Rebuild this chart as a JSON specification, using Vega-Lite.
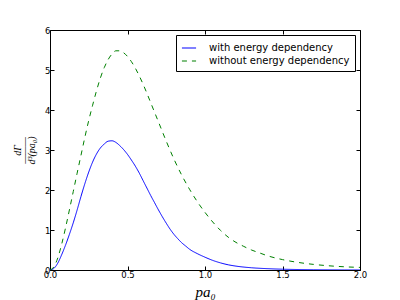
{
  "$schema": "https://vega.github.io/schema/vega-lite/v6.json",
  "width": 310,
  "height": 240,
  "autosize": {"type": "none"},
  "padding": {"left": 50, "top": 30, "right": 40, "bottom": 30},
  "background": "white",
  "config": {
    "view": {"stroke": "#000", "strokeWidth": 1},
    "axis": {
      "grid": false,
      "domain": false,
      "tickColor": "#000",
      "tickSize": -4,
      "tickWidth": 1,
      "labelColor": "#000",
      "labelFont": "DejaVu Sans",
      "labelFontSize": 8.5,
      "labelPadding": 4,
      "labelFlush": false,
      "labelOverlap": false
    },
    "legend": {
      "orient": "top-right",
      "offset": 5,
      "strokeColor": "#000",
      "fillColor": "white",
      "padding": 5,
      "symbolType": "stroke",
      "symbolSize": 200,
      "symbolStrokeWidth": 1.2,
      "labelFont": "DejaVu Sans",
      "labelFontSize": 10,
      "labelColor": "#000",
      "labelOffset": 12,
      "rowPadding": 0,
      "titlePadding": 0
    }
  },
  "data": {
    "values": [
      {"p": 0.0, "y": 0.0, "series": "with energy dependency"},
      {"p": 0.025, "y": 0.04, "series": "with energy dependency"},
      {"p": 0.05, "y": 0.17, "series": "with energy dependency"},
      {"p": 0.075, "y": 0.38, "series": "with energy dependency"},
      {"p": 0.1, "y": 0.62, "series": "with energy dependency"},
      {"p": 0.125, "y": 0.89, "series": "with energy dependency"},
      {"p": 0.15, "y": 1.18, "series": "with energy dependency"},
      {"p": 0.175, "y": 1.5, "series": "with energy dependency"},
      {"p": 0.2, "y": 1.84, "series": "with energy dependency"},
      {"p": 0.225, "y": 2.16, "series": "with energy dependency"},
      {"p": 0.25, "y": 2.45, "series": "with energy dependency"},
      {"p": 0.275, "y": 2.7, "series": "with energy dependency"},
      {"p": 0.3, "y": 2.9, "series": "with energy dependency"},
      {"p": 0.325, "y": 3.05, "series": "with energy dependency"},
      {"p": 0.35, "y": 3.15, "series": "with energy dependency"},
      {"p": 0.375, "y": 3.22, "series": "with energy dependency"},
      {"p": 0.4, "y": 3.23, "series": "with energy dependency"},
      {"p": 0.425, "y": 3.19, "series": "with energy dependency"},
      {"p": 0.45, "y": 3.11, "series": "with energy dependency"},
      {"p": 0.475, "y": 3.01, "series": "with energy dependency"},
      {"p": 0.5, "y": 2.89, "series": "with energy dependency"},
      {"p": 0.525, "y": 2.75, "series": "with energy dependency"},
      {"p": 0.55, "y": 2.6, "series": "with energy dependency"},
      {"p": 0.575, "y": 2.43, "series": "with energy dependency"},
      {"p": 0.6, "y": 2.24, "series": "with energy dependency"},
      {"p": 0.625, "y": 2.05, "series": "with energy dependency"},
      {"p": 0.65, "y": 1.86, "series": "with energy dependency"},
      {"p": 0.675, "y": 1.68, "series": "with energy dependency"},
      {"p": 0.7, "y": 1.5, "series": "with energy dependency"},
      {"p": 0.725, "y": 1.33, "series": "with energy dependency"},
      {"p": 0.75, "y": 1.17, "series": "with energy dependency"},
      {"p": 0.775, "y": 1.02, "series": "with energy dependency"},
      {"p": 0.8, "y": 0.89, "series": "with energy dependency"},
      {"p": 0.825, "y": 0.78, "series": "with energy dependency"},
      {"p": 0.85, "y": 0.68, "series": "with energy dependency"},
      {"p": 0.875, "y": 0.6, "series": "with energy dependency"},
      {"p": 0.9, "y": 0.52, "series": "with energy dependency"},
      {"p": 0.95, "y": 0.41, "series": "with energy dependency"},
      {"p": 1.0, "y": 0.32, "series": "with energy dependency"},
      {"p": 1.05, "y": 0.24, "series": "with energy dependency"},
      {"p": 1.1, "y": 0.178, "series": "with energy dependency"},
      {"p": 1.15, "y": 0.13, "series": "with energy dependency"},
      {"p": 1.2, "y": 0.097, "series": "with energy dependency"},
      {"p": 1.3, "y": 0.056, "series": "with energy dependency"},
      {"p": 1.4, "y": 0.034, "series": "with energy dependency"},
      {"p": 1.5, "y": 0.02, "series": "with energy dependency"},
      {"p": 1.6, "y": 0.012, "series": "with energy dependency"},
      {"p": 1.7, "y": 0.007, "series": "with energy dependency"},
      {"p": 1.8, "y": 0.004, "series": "with energy dependency"},
      {"p": 1.9, "y": 0.002, "series": "with energy dependency"},
      {"p": 2.0, "y": 0.001, "series": "with energy dependency"},
      {"p": 0.0, "y": 0.0, "series": "without energy dependency"},
      {"p": 0.025, "y": 0.08, "series": "without energy dependency"},
      {"p": 0.05, "y": 0.3, "series": "without energy dependency"},
      {"p": 0.075, "y": 0.64, "series": "without energy dependency"},
      {"p": 0.1, "y": 1.05, "series": "without energy dependency"},
      {"p": 0.125, "y": 1.5, "series": "without energy dependency"},
      {"p": 0.15, "y": 1.96, "series": "without energy dependency"},
      {"p": 0.175, "y": 2.42, "series": "without energy dependency"},
      {"p": 0.2, "y": 2.87, "series": "without energy dependency"},
      {"p": 0.225, "y": 3.32, "series": "without energy dependency"},
      {"p": 0.25, "y": 3.74, "series": "without energy dependency"},
      {"p": 0.275, "y": 4.12, "series": "without energy dependency"},
      {"p": 0.3, "y": 4.48, "series": "without energy dependency"},
      {"p": 0.325, "y": 4.8, "series": "without energy dependency"},
      {"p": 0.35, "y": 5.06, "series": "without energy dependency"},
      {"p": 0.375, "y": 5.26, "series": "without energy dependency"},
      {"p": 0.4, "y": 5.4, "series": "without energy dependency"},
      {"p": 0.425, "y": 5.48, "series": "without energy dependency"},
      {"p": 0.45, "y": 5.48, "series": "without energy dependency"},
      {"p": 0.475, "y": 5.43, "series": "without energy dependency"},
      {"p": 0.5, "y": 5.34, "series": "without energy dependency"},
      {"p": 0.525, "y": 5.21, "series": "without energy dependency"},
      {"p": 0.55, "y": 5.05, "series": "without energy dependency"},
      {"p": 0.575, "y": 4.86, "series": "without energy dependency"},
      {"p": 0.6, "y": 4.65, "series": "without energy dependency"},
      {"p": 0.625, "y": 4.42, "series": "without energy dependency"},
      {"p": 0.65, "y": 4.18, "series": "without energy dependency"},
      {"p": 0.675, "y": 3.94, "series": "without energy dependency"},
      {"p": 0.7, "y": 3.7, "series": "without energy dependency"},
      {"p": 0.75, "y": 3.22, "series": "without energy dependency"},
      {"p": 0.8, "y": 2.77, "series": "without energy dependency"},
      {"p": 0.85, "y": 2.37, "series": "without energy dependency"},
      {"p": 0.9, "y": 2.02, "series": "without energy dependency"},
      {"p": 0.95, "y": 1.71, "series": "without energy dependency"},
      {"p": 1.0, "y": 1.44, "series": "without energy dependency"},
      {"p": 1.05, "y": 1.2, "series": "without energy dependency"},
      {"p": 1.1, "y": 0.99, "series": "without energy dependency"},
      {"p": 1.15, "y": 0.82, "series": "without energy dependency"},
      {"p": 1.2, "y": 0.69, "series": "without energy dependency"},
      {"p": 1.25, "y": 0.59, "series": "without energy dependency"},
      {"p": 1.3, "y": 0.5, "series": "without energy dependency"},
      {"p": 1.35, "y": 0.43, "series": "without energy dependency"},
      {"p": 1.4, "y": 0.36, "series": "without energy dependency"},
      {"p": 1.5, "y": 0.26, "series": "without energy dependency"},
      {"p": 1.6, "y": 0.19, "series": "without energy dependency"},
      {"p": 1.7, "y": 0.14, "series": "without energy dependency"},
      {"p": 1.8, "y": 0.105, "series": "without energy dependency"},
      {"p": 1.9, "y": 0.08, "series": "without energy dependency"},
      {"p": 2.0, "y": 0.065, "series": "without energy dependency"}
    ]
  },
  "resolve": {"axis": {"x": "independent", "y": "independent"}},
  "layer": [
    {
      "mark": {"type": "line", "strokeWidth": 1, "clip": true, "interpolate": "monotone"},
      "encoding": {
        "x": {
          "field": "p",
          "type": "quantitative",
          "scale": {"domain": [0, 2], "nice": false, "zero": false},
          "axis": {
            "values": [0, 0.5, 1, 1.5, 2],
            "format": ".1f",
            "title": "pa₀",
            "titleFont": "Liberation Serif",
            "titleFontStyle": "italic",
            "titleFontWeight": "normal",
            "titleFontSize": 15,
            "titleColor": "#000",
            "titlePadding": 6
          }
        },
        "y": {
          "field": "y",
          "type": "quantitative",
          "scale": {"domain": [0, 6], "nice": false},
          "axis": {
            "values": [0, 1, 2, 3, 4, 5, 6],
            "format": "d",
            "title": ["dΓ", "———", "d³(pa₀)"],
            "titleFont": "Liberation Serif",
            "titleFontStyle": "italic",
            "titleFontWeight": "normal",
            "titleFontSize": 10,
            "titleLineHeight": 7,
            "titleColor": "#000",
            "titlePadding": 8
          }
        },
        "color": {
          "field": "series",
          "type": "nominal",
          "scale": {
            "domain": ["with energy dependency", "without energy dependency"],
            "range": ["#0000ff", "#008000"]
          },
          "legend": {
            "title": null,
            "encode": {"symbols": {"update": {"stroke": {"scale": "color", "field": "value"}}}}
          }
        },
        "strokeDash": {
          "field": "series",
          "type": "nominal",
          "scale": {
            "domain": ["with energy dependency", "without energy dependency"],
            "range": [[1, 0], [5, 5]]
          },
          "legend": {"title": null}
        }
      }
    },
    {
      "mark": {"type": "line", "strokeOpacity": 0},
      "encoding": {
        "x": {
          "field": "p",
          "type": "quantitative",
          "axis": {"orient": "top", "values": [0, 0.5, 1, 1.5, 2], "labels": false, "title": null}
        },
        "y": {
          "field": "y",
          "type": "quantitative",
          "axis": {"orient": "right", "values": [0, 1, 2, 3, 4, 5, 6], "labels": false, "title": null}
        },
        "detail": {"field": "series"}
      }
    }
  ]
}
